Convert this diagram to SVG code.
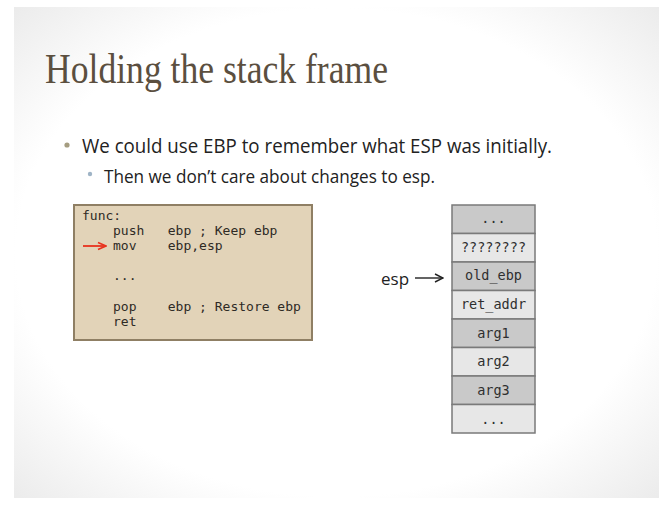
<svg xmlns="http://www.w3.org/2000/svg" width="659" height="507" viewBox="0 0 659 507">
  <defs>
    <radialGradient id="slideBg" cx="50%" cy="50%" r="71%">
      <stop offset="0.7" stop-color="#ffffff"/>
      <stop offset="1" stop-color="#ebebeb"/>
    </radialGradient>
    <marker id="arrowBlack" markerWidth="10" markerHeight="10" refX="9" refY="5" orient="auto" markerUnits="userSpaceOnUse">
      <path d="M1,1 L9,5 L1,9" fill="none" stroke="#222" stroke-width="1.4"/>
    </marker>
    <marker id="arrowRed" markerWidth="10" markerHeight="10" refX="9" refY="5" orient="auto" markerUnits="userSpaceOnUse">
      <path d="M1,1.5 L9,5 L1,8.5" fill="none" stroke="#e8321e" stroke-width="1.6"/>
    </marker>
    <style>
      .title { font-family: "Liberation Serif", "DejaVu Serif", serif; font-size: 43px; fill: #5b4f3f; }
      .b1 { font-family: "Open Sans", "Liberation Sans", sans-serif; font-size: 19.5px; fill: #222; }
      .b2 { font-family: "Open Sans", "Liberation Sans", sans-serif; font-size: 18px; fill: #222; }
      .code { font-family: "DejaVu Sans Mono", "Liberation Mono", monospace; font-size: 13px; fill: #2e2a25; }
      .cell { stroke: #7a7a7a; stroke-width: 1.5; }
      .dark { fill: #c9c9c9; }
      .light { fill: #e7e7e7; }
      .cellText { font-family: "DejaVu Sans Mono", "Liberation Mono", monospace; font-size: 13.5px; fill: #2f2f2f; text-anchor: middle; }
      .label { font-family: "Open Sans", "Liberation Sans", sans-serif; font-size: 17px; fill: #222; }
    </style>
  </defs>

  <!-- page and slide background -->
  <rect x="0" y="0" width="659" height="507" fill="#ffffff"/>
  <rect x="14" y="7" width="645" height="491" fill="url(#slideBg)"/>

  <!-- heading and bullets -->
  <text class="title" x="45" y="83" textLength="343" lengthAdjust="spacingAndGlyphs">Holding the stack frame</text>
  <circle cx="67" cy="145" r="2.6" fill="#a59d80"/>
  <text class="b1" x="82" y="153" textLength="470" lengthAdjust="spacingAndGlyphs">We could use EBP to remember what ESP was initially.</text>
  <circle cx="90" cy="174" r="2.2" fill="#9fb4c6"/>
  <text class="b2" x="104" y="183" textLength="331" lengthAdjust="spacingAndGlyphs">Then we don’t care about changes to esp.</text>

  <!-- assembly listing -->
  <g id="code">
    <rect x="74" y="205" width="238" height="135" fill="#e2d3b8" stroke="#8f7f64" stroke-width="2"/>
    <text class="code" x="82" y="220">func:</text>
    <text class="code" x="113" y="235" xml:space="preserve">push   ebp ; Keep ebp</text>
    <text class="code" x="113" y="250" xml:space="preserve">mov    ebp,esp</text>
    <text class="code" x="113" y="280">...</text>
    <text class="code" x="113" y="311" xml:space="preserve">pop    ebp ; Restore ebp</text>
    <text class="code" x="113" y="326">ret</text>
  </g>

  <!-- stack cells -->
  <g id="stack">
    <g id="cell-top"><rect class="cell dark" x="452" y="205" width="83" height="28.5"/><text class="cellText" x="493.5" y="223">...</text></g>
    <g id="cell-unknown"><rect class="cell light" x="452" y="233.5" width="83" height="28.5"/><text class="cellText" x="493.5" y="252">????????</text></g>
    <g id="cell-old-ebp"><rect class="cell dark" x="452" y="262" width="83" height="28.5"/><text class="cellText" x="493.5" y="280">old_ebp</text></g>
    <g id="cell-ret-addr"><rect class="cell light" x="452" y="290.5" width="83" height="28.5"/><text class="cellText" x="493.5" y="309">ret_addr</text></g>
    <g id="cell-arg1"><rect class="cell dark" x="452" y="319" width="83" height="28.5"/><text class="cellText" x="493.5" y="338">arg1</text></g>
    <g id="cell-arg2"><rect class="cell light" x="452" y="347.5" width="83" height="28.5"/><text class="cellText" x="493.5" y="366">arg2</text></g>
    <g id="cell-arg3"><rect class="cell dark" x="452" y="376" width="83" height="28.5"/><text class="cellText" x="493.5" y="395">arg3</text></g>
    <g id="cell-bottom"><rect class="cell light" x="452" y="404.5" width="83" height="28.5"/><text class="cellText" x="493.5" y="424">...</text></g>
  </g>

  <g id="esp-label">
    <text class="label" x="381" y="285">esp</text>
  </g>

  <!-- pointers -->
  <g id="connectors">
    <line x1="415" y1="278" x2="443" y2="278" stroke="#222" stroke-width="1.4" marker-end="url(#arrowBlack)"/>
    <line x1="83" y1="246" x2="106" y2="246" stroke="#e8321e" stroke-width="1.8" marker-end="url(#arrowRed)"/>
  </g>
</svg>
